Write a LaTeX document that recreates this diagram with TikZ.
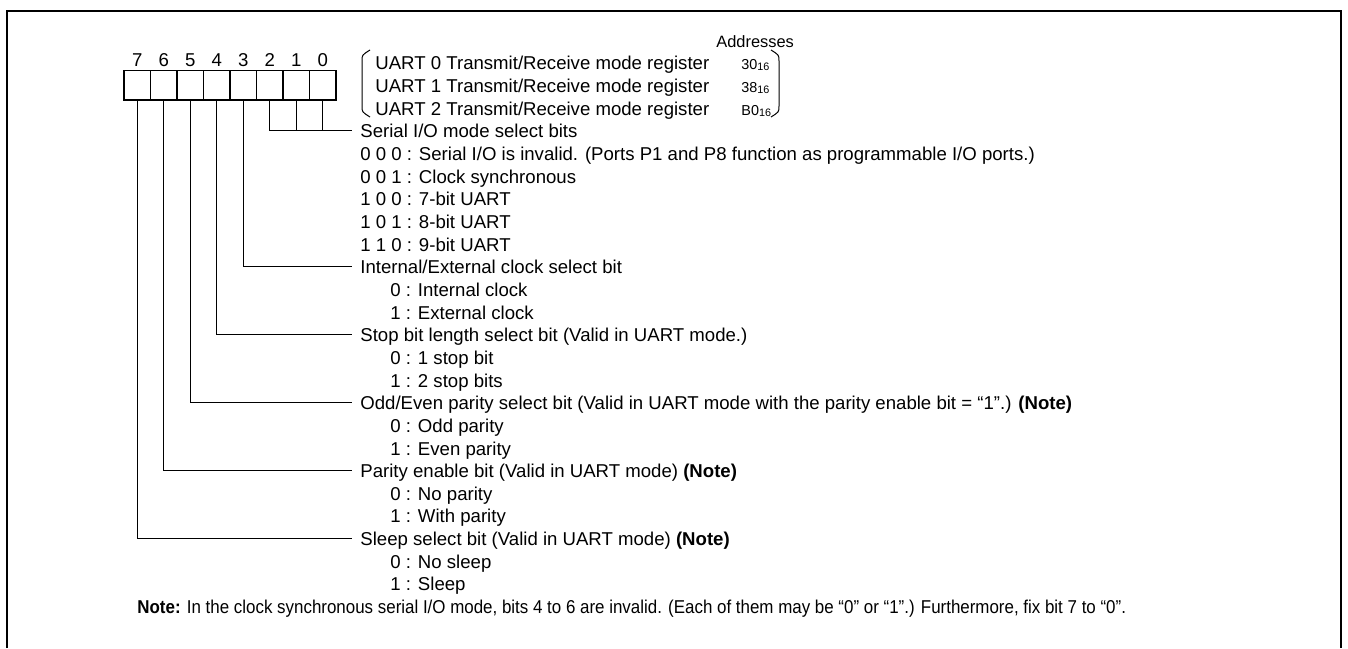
\documentclass[tikz,border=0pt]{standalone}
\usepackage{fontspec}
\setmainfont{Liberation Sans}
\newfontfamily\notefont[FakeStretch=0.91]{Liberation Sans}
\usepackage{tikz}
\usetikzlibrary{positioning}
\newcommand{\hexsub}[1]{\raisebox{-0.4pt}{\fontsize{5.4}{6}\selectfont #1}}

\begin{document}
\begin{tikzpicture}[x=0.5pt,y=-0.5pt,
    font=\fontsize{9.3}{11}\selectfont,
    cell/.style={draw,line width=0.6pt,minimum width=13.25pt,
                 minimum height=14.65pt,inner sep=0pt},
    bitno/.style={inner sep=0pt,text depth=0pt},
    txt/.style={anchor=west,inner sep=0pt,text height=0.72em,text depth=0pt},
    adr/.style={txt,font=\fontsize{7.2}{8}\selectfont},
    wire/.style={line width=0.5pt},
    lead/.style={wire,shorten >=4pt}]

    \useasboundingbox (0,0) rectangle (1348,648);
    \draw[line width=1pt] (7,648) -- (7,11) -- (1341,11) -- (1341,648);

    % register cells and bit numbers
    \foreach \i in {0,...,7} {
      \node[cell] (b\i) at ({322.75-26.5*\i},85.35) {};
      \node[bitno,above=1.4pt of b\i] (n\i) {\i};
    }

    % register names and addresses
    \node[txt,font=\fontsize{8.2}{10}\selectfont] (addr) at (716,40.1) {Addresses};
    \node[txt] (uart0) at (375,62.75) {UART 0 Transmit/Receive mode register};
    \node[txt] (uart1) at (375,85.4)  {UART 1 Transmit/Receive mode register};
    \node[txt] (uart2) at (375,108.05) {UART 2 Transmit/Receive mode register};
    \node[adr] (adr0) at (741,62.75) {30\hexsub{16}};
    \node[adr] (adr1) at (741,85.4)  {38\hexsub{16}};
    \node[adr] (adr2) at (741,108.05) {B0\hexsub{16}};
    \draw[wire] (370,50) .. controls (362,55) .. (362,61) -- (362,106)
                .. controls (362,112) .. (370,117);
    \draw[wire] (771,50) .. controls (779,55) .. (779,61) -- (779,106)
                .. controls (779,112) .. (771,117);

    % bit descriptions
    \node[txt] (sio) at (360,130.7) {Serial I/O mode select bits};
    \node[txt] (sio1) at (360,153.35) {0 0 0 : Serial I/O is invalid. (Ports P1 and P8 function as programmable I/O ports.)};
    \node[txt] (sio2) at (360,176) {0 0 1 : Clock synchronous};
    \node[txt] (sio3) at (360,198.65) {1 0 0 : 7-bit UART};
    \node[txt] (sio4) at (360,221.3) {1 0 1 : 8-bit UART};
    \node[txt] (sio5) at (360,243.95) {1 1 0 : 9-bit UART};

    \node[txt] (clk) at (360,266.6) {Internal/External clock select bit};
    \node[txt] (clk0) at (390,289.25) {0 : Internal clock};
    \node[txt] (clk1) at (390,311.9) {1 : External clock};

    \node[txt] (stp) at (360,334.55) {Stop bit length select bit (Valid in UART mode.)};
    \node[txt] (stp0) at (390,357.2) {0 : 1 stop bit};
    \node[txt] (stp1) at (390,379.85) {1 : 2 stop bits};

    \node[txt] (prs) at (360,402.5) {Odd/Even parity select bit (Valid in UART mode with the parity enable bit = “1”.) \textbf{(Note)}};
    \node[txt] (prs0) at (390,425.15) {0 : Odd parity};
    \node[txt] (prs1) at (390,447.8) {1 : Even parity};

    \node[txt] (pen) at (360,470.45) {Parity enable bit (Valid in UART mode) \textbf{(Note)}};
    \node[txt] (pen0) at (390,493.1) {0 : No parity};
    \node[txt] (pen1) at (390,515.75) {1 : With parity};

    \node[txt] (slp) at (360,538.4) {Sleep select bit (Valid in UART mode) \textbf{(Note)}};
    \node[txt] (slp0) at (390,561.05) {0 : No sleep};
    \node[txt] (slp1) at (390,583.7) {1 : Sleep};

    \node[txt,font=\notefont\fontsize{9.3}{11}\selectfont] (note) at (137,606.35)
      {\textbf{Note:} In the clock synchronous serial I/O mode, bits 4 to 6 are invalid. (Each of them may be “0” or “1”.) Furthermore, fix bit 7 to “0”.};

    % leads from the bits
    \foreach \i/\n in {2/sio,3/clk,4/stp,5/prs,6/pen,7/slp}
      \draw[lead] (b\i.south) |- (\n.west);
    \foreach \i in {0,1}
      \draw[wire] (b\i.south) -- (b\i.south |- sio.west);
\end{tikzpicture}
\end{document}
